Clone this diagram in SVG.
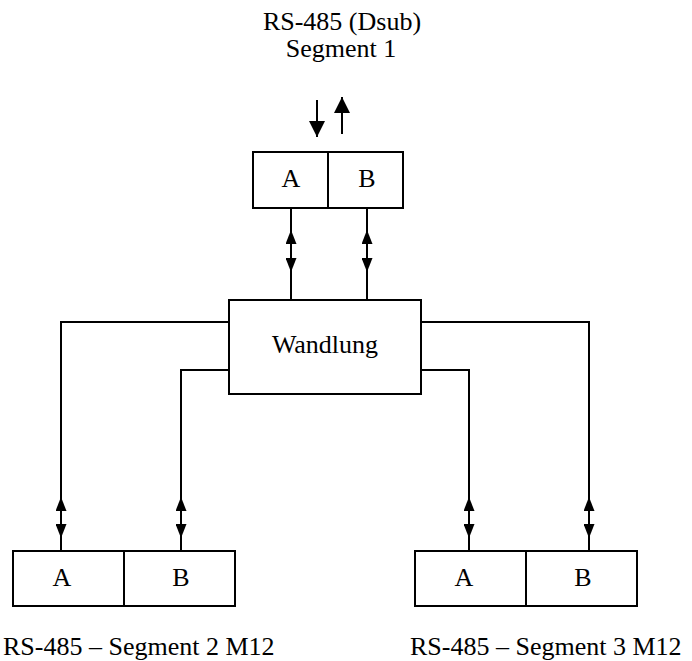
<svg xmlns="http://www.w3.org/2000/svg" width="692" height="661" viewBox="0 0 692 661" font-family="'Liberation Serif', 'DejaVu Serif', serif">
<style>
.box{fill:#fff;stroke:#000;stroke-width:2}
.div{stroke:#000;stroke-width:2}
.ln{fill:none;stroke:#000;stroke-width:2}
text{font-family:'Liberation Serif','DejaVu Serif',serif;font-size:26px;fill:#000}
.c{text-anchor:middle}
</style>
<defs>
<marker id="ah" viewBox="0 0 14 11" refX="14" refY="5.5" markerWidth="14" markerHeight="11" markerUnits="userSpaceOnUse" orient="auto-start-reverse">
<path d="M0,0 L14,5.5 L0,11 z" fill="#000"/>
</marker>
<marker id="ahb" viewBox="0 0 16 16" refX="16" refY="8" markerWidth="16" markerHeight="16" markerUnits="userSpaceOnUse" orient="auto">
<path d="M0,0 L16,8 L0,16 z" fill="#000"/>
</marker>
</defs>
<g id="title">
<text class="c" x="342" y="30">RS-485 (Dsub)</text>
<text class="c" x="341" y="57">Segment 1</text>
</g>
<g id="io-arrows">
<line class="ln" x1="317" y1="100" x2="317" y2="137" marker-end="url(#ahb)"/>
<line class="ln" x1="342" y1="134" x2="342" y2="97" marker-end="url(#ahb)"/>
</g>
<g id="connectors">
<polyline class="ln" points="291,208 291,300"/>
<polyline class="ln" points="367,208 367,300"/>
<line class="ln" x1="291" y1="230" x2="291" y2="272" marker-start="url(#ah)" marker-end="url(#ah)"/>
<line class="ln" x1="367" y1="230" x2="367" y2="272" marker-start="url(#ah)" marker-end="url(#ah)"/>
<polyline class="ln" points="229,322 61,322 61,551"/>
<polyline class="ln" points="229,370 181,370 181,551"/>
<polyline class="ln" points="421,322 589,322 589,551"/>
<polyline class="ln" points="421,370 469,370 469,551"/>
<line class="ln" x1="61" y1="497" x2="61" y2="538" marker-start="url(#ah)" marker-end="url(#ah)"/>
<line class="ln" x1="181" y1="497" x2="181" y2="538" marker-start="url(#ah)" marker-end="url(#ah)"/>
<line class="ln" x1="469" y1="497" x2="469" y2="538" marker-start="url(#ah)" marker-end="url(#ah)"/>
<line class="ln" x1="589" y1="497" x2="589" y2="538" marker-start="url(#ah)" marker-end="url(#ah)"/>
</g>
<g id="seg1">
<rect class="box" x="253" y="152" width="150" height="56"/>
<line class="div" x1="328" y1="152" x2="328" y2="208" stroke-width="3"/>
<text class="c" x="291" y="187">A</text>
<text class="c" x="367" y="187">B</text>
</g>
<g id="wandlung">
<rect class="box" x="229" y="300" width="192" height="94"/>
<text class="c" x="325" y="353">Wandlung</text>
</g>
<g id="seg2">
<rect class="box" x="13" y="551" width="222" height="55"/>
<line class="div" x1="124" y1="551" x2="124" y2="606"/>
<text class="c" x="62" y="586">A</text>
<text class="c" x="181" y="586">B</text>
<text x="3" y="655">RS-485 – Segment 2 M12</text>
</g>
<g id="seg3">
<rect class="box" x="415" y="551" width="222" height="55"/>
<line class="div" x1="526" y1="551" x2="526" y2="606"/>
<text class="c" x="464" y="586">A</text>
<text class="c" x="583" y="586">B</text>
<text x="410" y="655">RS-485 – Segment 3 M12</text>
</g>
</svg>
